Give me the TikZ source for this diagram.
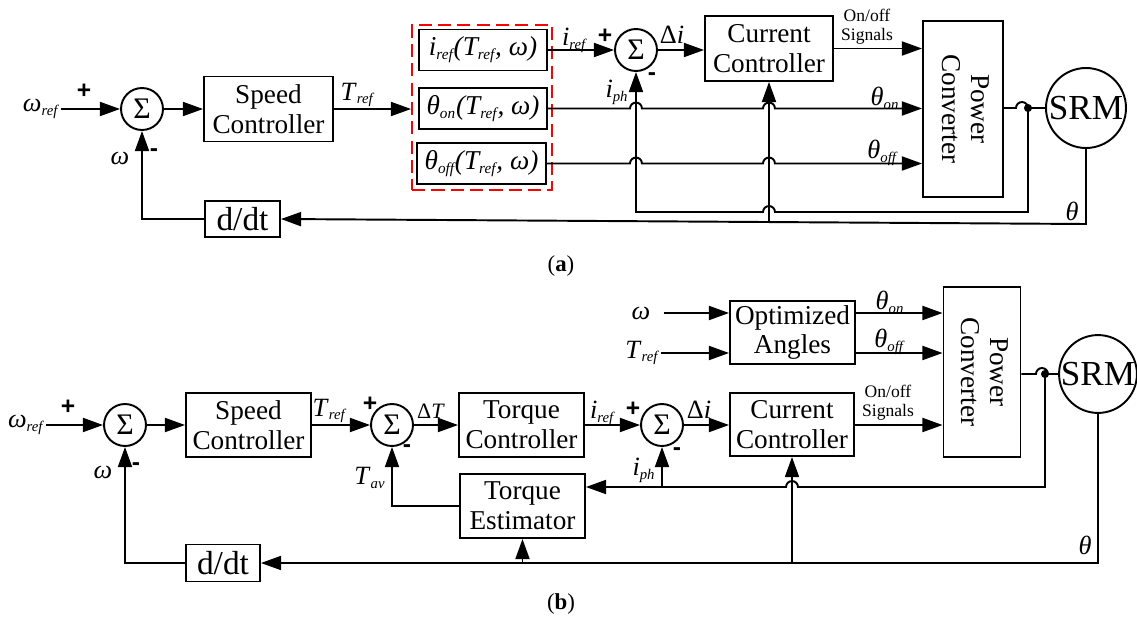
\documentclass[tikz,border=0pt]{standalone}
\usepackage{fontspec}
\setmainfont{Liberation Serif}
\newfontfamily\signfont{Liberation Sans}
\usetikzlibrary{arrows.meta}

\newcommand{\sbs}[1]{\textsubscript{\scalebox{0.8}{\textit{#1}}}}
\newcommand{\vsub}[2]{\textit{#1}\sbs{#2}}
\newcommand{\hop}{arc[start angle=180,end angle=0,radius=3.4pt]}
\newcommand{\hopl}{arc[start angle=0,end angle=180,radius=3.4pt]}

\begin{document}
\begin{tikzpicture}[x=0.02cm,y=-0.02cm,line width=1.1pt,
    >={Triangle[length=11.5pt,width=8pt]},
    block/.style={draw,inner sep=0pt,align=center,font=\fontsize{15.5}{17}\selectfont},
    sumnode/.style={draw,circle,minimum size=0.84cm,inner sep=0pt,font=\fontsize{17}{17}\selectfont},
    motor/.style={draw,circle,inner sep=0pt,font=\fontsize{20}{20}\selectfont},
    lbl/.style={inner sep=0pt,font=\fontsize{15}{16}\selectfont},
    small/.style={inner sep=0pt,align=center,font=\fontsize{10}{11}\selectfont},
    sgn/.style={inner sep=0pt,font=\signfont\bfseries\fontsize{14}{14}\selectfont}]
    \useasboundingbox (0,0) rectangle (1137,619);

    % (a)
    \node[lbl,anchor=east] (wrefA) at (61,109) {\vsub{ω}{ref}};
    \node[sumnode] (s1A) at (142,109) {Σ};
    \node[block,minimum width=2.58cm,minimum height=1.3cm] (spdA) at (268.5,109) {Speed\\Controller};
    \node[draw=red,dash pattern=on 7.5pt off 3.5pt,minimum width=2.8cm,minimum height=3.3cm] (optA) at (482,107.5) {};
    \node[block,minimum width=2.56cm,minimum height=0.82cm,font=\fontsize{15.5}{16}\selectfont\itshape] (irefA) at (483,50) {i\sbs{ref}(T\sbs{ref}, ω)};
    \node[block,minimum width=2.56cm,minimum height=0.82cm,font=\fontsize{15.5}{16}\selectfont\itshape] (thonA) at (483,108.5) {θ\sbs{on}(T\sbs{ref}, ω)};
    \node[block,minimum width=2.58cm,minimum height=0.82cm,font=\fontsize{15.5}{16}\selectfont\itshape] (thoffA) at (481.5,163.5) {θ\sbs{off}(T\sbs{ref}, ω)};
    \node[sumnode] (s2A) at (636,50) {Σ};
    \node[block,minimum width=2.56cm,minimum height=1.3cm] (ccA) at (769,48.5) {Current\\Controller};
    \node[block,minimum width=1.6cm,minimum height=3.52cm] (pcA) at (963,109) {\rotatebox{-90}{\begin{tabular}{@{}c@{}}Power\\Converter\end{tabular}}};
    \node[motor,minimum size=1.6cm] (srmA) at (1086,108) {SRM};
    \node[block,minimum width=1.5cm,minimum height=0.72cm,font=\fontsize{19}{19}\selectfont] (ddtA) at (242.5,219) {d/dt};
    \coordinate (jA) at (1028,108);
    \coordinate (ijA) at (636,212);
    \coordinate (thA) at (1086,224);
    \coordinate (cjA) at (769,222);

    \draw[->] (wrefA) -- (s1A);
    \draw[->] (s1A) -- (spdA);
    \draw[->] (spdA) -- (optA.west |- spdA.east);
    \draw[->] (irefA) -- (s2A);
    \draw[->] (s2A) -- (ccA.west |- s2A);
    \draw[->] (ccA.east) -- (pcA.west |- ccA.east);
    \draw[->] (thonA.east) -- (630,108.5) \hop -- (763,108.5) \hop -- (pcA.west |- thonA.east);
    \draw[->] (thoffA.east) -- (630,163.5) \hop -- (763,163.5) \hop -- (pcA.west |- thoffA.east);
    \draw (pcA.east |- jA) -- (1016,108) \hop -- (srmA.west);
    \fill (jA) circle (2.3pt);
    \draw[->] (jA) |- (775,212) \hopl -- (ijA) -- (s2A.south);
    \draw[->] (srmA.south) -- (thA) -- (ddtA.east);
    \draw[->] (cjA) -- (ccA.south);
    \draw[->] (ddtA.west) -| (s1A.south);

    \node[sgn] at (84,91) {+};
    \node[sgn] at (154,153) {-};
    \node[lbl] at (120,158) {\textit{ω}};
    \node[lbl] at (358,95) {\vsub{T}{ref}};
    \node[lbl] at (575,40) {\vsub{i}{ref}};
    \node[sgn] at (605,36) {+};
    \node[lbl] at (672,35) {Δ\textit{i}};
    \node[sgn] at (652,77) {-};
    \node[lbl] at (617,92) {\vsub{i}{ph}};
    \node[lbl] at (885,98) {\vsub{θ}{on}};
    \node[lbl] at (883,153) {\vsub{θ}{off}};
    \node[small] at (867,27) {On/off\\Signals};
    \node[lbl] at (1072,211) {\textit{θ}};
    \node[font=\fontsize{13}{15}\selectfont] (capA) at (561,266) {(\textbf{a})};

    % (b)
    \node[lbl,anchor=east] (wrefB) at (46,425) {\vsub{ω}{ref}};
    \node[sumnode] (s1B) at (125,425) {Σ};
    \node[block,minimum width=2.5cm,minimum height=1.28cm] (spdB) at (248.5,425) {Speed\\Controller};
    \node[sumnode] (s2B) at (392,425) {Σ};
    \node[block,minimum width=2.5cm,minimum height=1.28cm] (tcB) at (521.5,425) {Torque\\Controller};
    \node[sumnode] (s3B) at (662,425) {Σ};
    \node[block,minimum width=2.48cm,minimum height=1.26cm] (ccB) at (792,424.5) {Current\\Controller};
    \node[block,minimum width=2.5cm,minimum height=1.26cm] (oaB) at (792.5,332.5) {Optimized\\Angles};
    \node[block,minimum width=1.54cm,minimum height=3.4cm] (pcB) at (982,372) {\rotatebox{-90}{\begin{tabular}{@{}c@{}}Power\\Converter\end{tabular}}};
    \node[motor,minimum size=1.4cm] (srmB) at (1098,374) {SRM};
    \node[block,minimum width=2.5cm,minimum height=1.28cm] (teB) at (522.5,506) {Torque\\Estimator};
    \node[block,minimum width=1.48cm,minimum height=0.74cm,font=\fontsize{19}{19}\selectfont] (ddtB) at (223,563) {d/dt};
    \node[lbl] (wB) at (641,313) {\textit{ω}};
    \node[lbl,anchor=east] (trefB) at (661,353) {\vsub{T}{ref}};
    \coordinate (jB) at (1045,374);
    \coordinate (ijB) at (662,487);

    \draw[->] (wrefB) -- (s1B);
    \draw[->] (s1B) -- (spdB);
    \draw[->] (spdB) -- (s2B);
    \draw[->] (s2B) -- (tcB);
    \draw[->] (tcB) -- (s3B);
    \draw[->] (s3B) -- (ccB.west |- s3B);
    \draw[->] (ccB.east |- s3B) -- (pcB.west |- s3B);
    \draw[->,shorten <=7pt] (wB) -- (oaB.west |- wB);
    \draw[->] (trefB) -- (oaB.west |- trefB);
    \draw[->] (oaB.east |- wB) -- (pcB.west |- wB);
    \draw[->] (oaB.east |- trefB) -- (pcB.west |- trefB);
    \draw (pcB.east |- jB) -- (1036,374) \hop -- (srmB.west);
    \fill (jB) circle (2.3pt);
    \draw[->] (jB) |- (798,487) \hopl -- (teB.east |- ijB);
    \draw[->] (ijB) -- (s3B.south);
    \draw[->] (teB.west) -| (s2B.south);
    \draw[->] (srmB.south) |- (ddtB.east);
    \draw[->] (ccB.south |- ddtB.east) -- (ccB.south);
    \draw[->] (teB.south |- ddtB.east) -- (teB.south);
    \draw[->] (ddtB.west) -| (s1B.south);

    \node[sgn] at (68,407) {+};
    \node[sgn] at (136,467) {-};
    \node[lbl] at (103,472) {\textit{ω}};
    \node[lbl] at (330,411) {\vsub{T}{ref}};
    \node[sgn] at (370,404) {+};
    \node[lbl,font=\fontsize{12.5}{14}\selectfont] at (431,411) {Δ\textit{T}};
    \node[sgn] at (407,449) {-};
    \node[lbl] at (370,478) {\vsub{T}{av}};
    \node[lbl] at (603,413) {\vsub{i}{ref}};
    \node[sgn] at (633,409) {+};
    \node[lbl] at (699,410) {Δ\textit{i}};
    \node[sgn] at (677,452) {-};
    \node[lbl] at (644,470) {\vsub{i}{ph}};
    \node[lbl] at (890,302) {\vsub{θ}{on}};
    \node[lbl] at (890,342) {\vsub{θ}{off}};
    \node[small] at (888,403) {On/off\\Signals};
    \node[lbl] at (1085,545) {\textit{θ}};
    \node[font=\fontsize{13}{15}\selectfont] (capB) at (561,604) {(\textbf{b})};
\end{tikzpicture}
\end{document}
